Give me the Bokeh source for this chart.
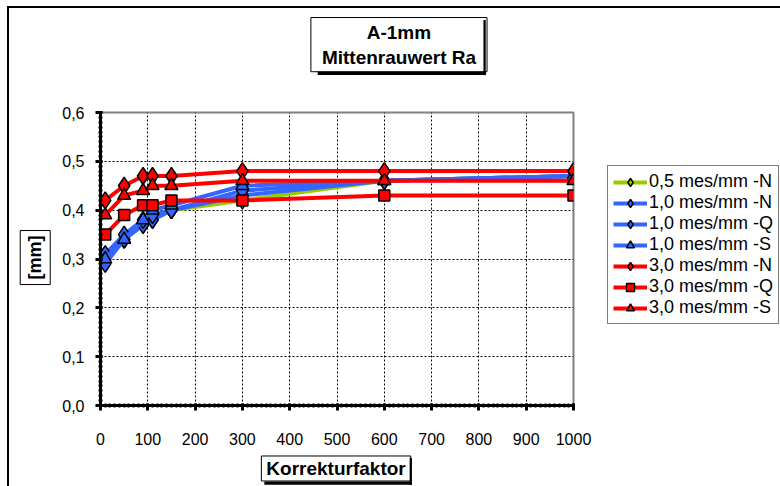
from bokeh.plotting import figure
from bokeh.models import (Legend, LegendItem, Label, FixedTicker, Range1d)
from bokeh.embed import file_html
from bokeh.resources import INLINE

# ---- data ----
korrektur = [10, 50, 90, 110, 150, 300, 600, 1000]
s05_N = [0.30, 0.34, 0.37, 0.38, 0.40, 0.42, 0.46, 0.47]
s10_N = [0.29, 0.34, 0.37, 0.38, 0.40, 0.43, 0.46, 0.47]
s10_Q = [0.31, 0.35, 0.38, 0.39, 0.40, 0.44, 0.46, 0.47]
s10_S = [0.30, 0.34, 0.38, 0.40, 0.41, 0.45, 0.46, 0.47]
s30_N = [0.42, 0.45, 0.47, 0.47, 0.47, 0.48, 0.48, 0.48]
s30_Q = [0.35, 0.39, 0.41, 0.41, 0.42, 0.42, 0.43, 0.43]
s30_S = [0.39, 0.43, 0.44, 0.45, 0.45, 0.46, 0.46, 0.46]

series_names = ["0,5 mes/mm -N", "1,0 mes/mm -N", "1,0 mes/mm -Q", "1,0 mes/mm -S",
                "3,0 mes/mm -N", "3,0 mes/mm -Q", "3,0 mes/mm -S"]
series_vals = [s05_N, s10_N, s10_Q, s10_S, s30_N, s30_Q, s30_S]
series_colors = ["#99cc00", "#3366ff", "#3366ff", "#3366ff", "#ff0000", "#ff0000", "#ff0000"]
series_markers = ["diamond", "diamond", "diamond", "triangle", "diamond", "square", "triangle"]

x_ticks = [0, 100, 200, 300, 400, 500, 600, 700, 800, 900, 1000]
y_ticks = [0.0, 0.1, 0.2, 0.3, 0.4, 0.5, 0.6]
y_tick_labels = ["0,0", "0,1", "0,2", "0,3", "0,4", "0,5", "0,6"]

title_text = "A-1mm\nMittenrauwert Ra"
x_label = "Korrekturfaktor"
y_label = "[mm]"

FONT = "Liberation Sans"

p = figure(frame_width=473, frame_height=293,
           min_border_left=91, min_border_right=207, min_border_top=104, min_border_bottom=81,
           x_range=Range1d(0, 1000), y_range=Range1d(0, 0.6),
           output_backend="svg", toolbar_location=None, tools="")
p.styles = {"margin-left": "7px", "margin-top": "6px",
            "border-left": "2px solid black", "border-top": "2px solid black"}

p.outline_line_color = "#808080"
p.outline_line_width = 2

for ax in (p.xaxis[0], p.yaxis[0]):
    ax.axis_line_width = 3
    ax.axis_line_color = "black"
    ax.major_tick_line_width = 3
    ax.major_tick_in = 2
    ax.major_tick_out = 5
    ax.minor_tick_line_width = 2
    ax.minor_tick_in = 2
    ax.minor_tick_out = 2
    ax.major_label_text_font = FONT
    ax.major_label_text_font_size = "16px"
    ax.major_label_text_color = "black"

p.xaxis[0].ticker = FixedTicker(ticks=x_ticks, minor_ticks=list(range(0, 1001, 10)))
p.yaxis[0].ticker = FixedTicker(ticks=y_ticks, minor_ticks=[i / 100 for i in range(0, 61)])
p.yaxis[0].major_label_overrides = {t: l for t, l in zip(y_ticks, y_tick_labels)}
p.xaxis[0].major_label_standoff = 22
p.yaxis[0].major_label_standoff = 11

p.xgrid.grid_line_color = "black"
p.ygrid.grid_line_color = "black"
p.xgrid.grid_line_dash = "2 2"
p.ygrid.grid_line_dash = "2 2"
p.xgrid.grid_line_width = 1
p.ygrid.grid_line_width = 1

marker_sizes = {"diamond": 17, "square": 11, "triangle": 13}
items = []
for name, vals, col, mk in zip(series_names, series_vals, series_colors, series_markers):
    r1 = p.line(korrektur, vals, line_color=col, line_width=4)
    r2 = p.scatter(korrektur, vals, marker=mk, size=marker_sizes[mk], fill_color=col,
                   line_color="black", line_width=1.5)
    items.append(LegendItem(label=name, renderers=[r1, r2]))

legend = Legend(items=items, location=(34, 81),
                label_text_font=FONT, label_text_font_size="18px", label_text_color="black",
                glyph_width=34, glyph_height=20, label_height=20, spacing=0,
                label_standoff=2, padding=5, margin=0,
                border_line_color="black", border_line_width=1,
                background_fill_color="white", background_fill_alpha=1)
p.add_layout(legend, "right")


def box_label(x, y, text, size, pad, angle=0):
    return Label(x=x, y=y, text=text, angle=angle, angle_units="deg",
                 text_font=FONT, text_font_style="bold", text_font_size=size,
                 text_align="center", text_baseline="middle", text_color="black",
                 background_fill_color="white", border_line_color="black", border_line_width=1,
                 padding=pad)


def shadow_strip(x, y, half_w, half_h):
    # a thin black box used as drop shadow
    return Label(x=x, y=y, text=" ", text_font_size="1px",
                 text_align="center", text_baseline="middle",
                 background_fill_color="black", border_line_color=None,
                 padding=dict(left=half_w, right=half_w, top=half_h, bottom=half_h))


# title box
p.add_layout(box_label(631, 0.739, title_text, "19px", dict(left=11, right=11, top=4, bottom=4)), "above")
p.add_layout(shadow_strip(637, 0.680, 84, 1), "above")      # title shadow, bottom
p.add_layout(shadow_strip(501, -0.159, 73, 1), "above")     # x-label shadow, bottom

# x label
p.add_layout(box_label(498, -0.129, x_label, "19px", dict(left=5, right=5, top=2, bottom=2)), "below")

# vertical shadow strips (thin) go to the right panel, after the legend
p.add_layout(shadow_strip(812, 0.733, 1, 27), "right")      # title shadow, right
p.add_layout(shadow_strip(656, -0.135, 1, 13), "right")     # x-label shadow, right

# y label
p.add_layout(box_label(-138, 0.303, y_label, "18px", 5, angle=90), "left")

open("out.html", "w").write(file_html(p, INLINE))
